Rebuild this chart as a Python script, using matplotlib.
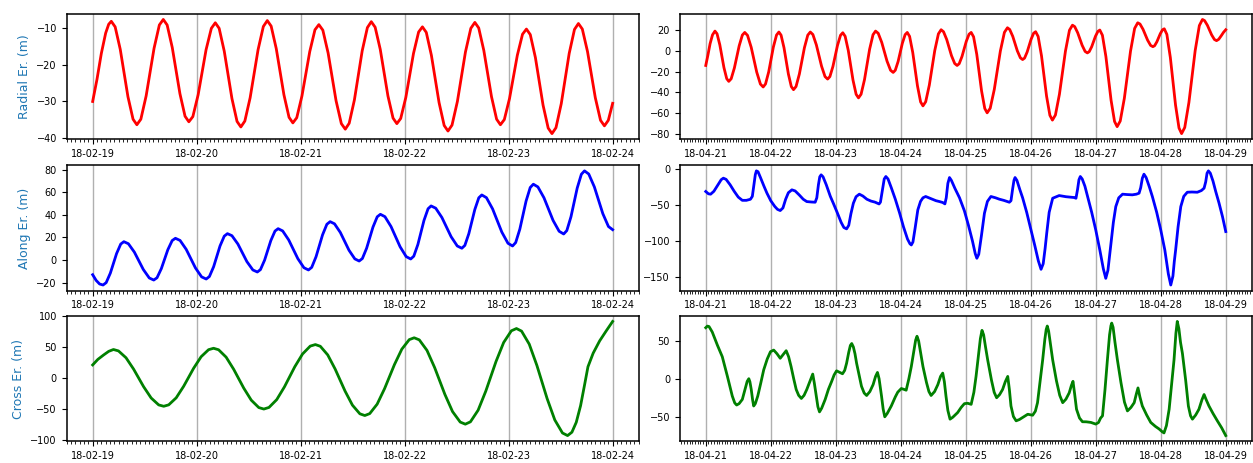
import numpy as np
import pandas as pd
import matplotlib
matplotlib.use("Agg")
import matplotlib.pyplot as plt
import matplotlib.dates as mdates
from matplotlib.ticker import MultipleLocator

# left column: 18-02-19 .. 18-02-24, hours from 2018-02-19 00:00
left_start = '2018-02-19'
right_start = '2018-04-21'

radial_l_h = [0, 1, 2, 3, 3.7, 4.3,
              5.19, 6.37, 8.14, 9.32, 10.2, 11.12, 12.34, 14.17, 15.39, 16.3,
              17.19, 18.37, 20.14, 21.32, 22.2, 23.12, 24.34, 26.17, 27.39, 28.3,
              29.19, 30.37, 32.14, 33.32, 34.2, 35.12, 36.34, 38.17, 39.39, 40.3,
              41.19, 42.37, 44.14, 45.32, 46.2, 47.1, 48.3, 50.1, 51.3, 52.2,
              53.12, 54.34, 56.17, 57.39, 58.3, 59.2, 60.4, 62.2, 63.4, 64.3,
              65.19, 66.37, 68.14, 69.32, 70.2, 71.09, 72.27, 74.04, 75.22, 76.1,
              76.99, 78.17, 79.94, 81.12, 82.0, 82.93, 84.17, 86.03, 87.27, 88.2,
              89.09, 90.27, 92.04, 93.22, 94.1, 95.0, 96.2, 98.0, 99.2, 100.1,
              100.99, 102.17, 103.94, 105.12, 106.0, 106.92, 108.14, 109.97, 111.19, 112.1,
              113.0, 114.2, 116.0, 117.2, 118.1, 119, 120]
radial_l_v = [-30, -24, -17, -11.5, -9.1, -8.3,
              -9.8, -15.9, -28.7, -34.8, -36.3, -34.8, -28.5, -15.6, -9.3, -7.8,
              -9.3, -15.4, -27.9, -34.0, -35.5, -34.1, -28.2, -16.0, -10.2, -8.7,
              -10.2, -16.4, -29.2, -35.4, -36.9, -35.3, -29.0, -16.0, -9.7, -8.1,
              -9.6, -15.7, -28.2, -34.3, -35.8, -34.4, -28.5, -16.5, -10.6, -9.2,
              -10.7, -16.9, -29.8, -36.0, -37.5, -35.9, -29.6, -16.3, -10.0, -8.4,
              -9.9, -15.9, -28.5, -34.5, -36.0, -34.6, -28.9, -17.0, -11.2, -9.8,
              -11.3, -17.5, -30.3, -36.5, -38.0, -36.4, -30.0, -16.6, -10.2, -8.6,
              -10.1, -16.2, -28.7, -34.8, -36.3, -34.9, -29.2, -17.5, -11.8, -10.4,
              -11.9, -18.1, -31.0, -37.2, -38.7, -37.1, -30.6, -17.0, -10.5, -8.9,
              -10.4, -16.5, -29.0, -35.1, -36.6, -35.1, -30.5]

along_l_h = [0, 0.8, 1.6, 2.4,
             3.12, 4.08, 5.52, 6.48, 7.2, 8.24, 9.62, 11.69, 13.07, 14.1,
             14.85, 15.85, 17.35, 18.35, 19.1, 20.17, 21.59, 23.72, 25.14, 26.2,
             26.94, 27.92, 29.39, 30.37, 31.1, 32.14, 33.52, 35.59, 36.97, 38.0,
             38.72, 39.68, 41.12, 42.08, 42.8, 43.85, 45.25, 47.35, 48.75, 49.8,
             50.55, 51.55, 53.05, 54.05, 54.8, 55.81, 57.15, 59.16, 60.5, 61.5,
             62.24, 63.22, 64.69, 65.67, 66.4, 67.45, 68.85, 70.95, 72.35, 73.4,
             74.11, 75.05, 76.46, 77.4, 78.1, 79.17, 80.59, 82.72, 84.14, 85.2,
             85.89, 86.81, 88.19, 89.11, 89.8, 90.87, 92.29, 94.42, 95.84, 96.9,
             97.62, 98.58, 100.02, 100.98, 101.7, 102.75, 104.15, 106.25, 107.65, 108.7,
             109.42, 110.38, 111.82, 112.78, 113.5, 114.48, 115.78, 117.73, 119.03, 120]
along_l_v = [-13, -18, -21.2, -22.1,
             -20.0, -11.6, 5.7, 14.1, 16.2, 14.4, 7.0, -8.4, -15.9, -17.7,
             -15.7, -7.6, 9.1, 17.2, 19.2, 17.3, 9.4, -7.0, -14.9, -16.8,
             -14.6, -5.9, 12.4, 21.1, 23.3, 21.5, 14.1, -1.4, -8.8, -10.6,
             -8.5, -0.1, 17.2, 25.6, 27.7, 25.7, 17.7, 1.2, -6.8, -8.8,
             -6.5, 2.9, 22.2, 31.6, 33.9, 32.0, 24.4, 8.6, 1.0, -0.9,
             1.3, 10.4, 29.1, 38.2, 40.4, 38.3, 29.6, 11.7, 3.0, 0.9,
             3.4, 13.7, 35.0, 45.3, 47.8, 45.8, 37.6, 20.6, 12.4, 10.4,
             12.9, 23.3, 44.6, 55.0, 57.5, 55.1, 45.2, 24.7, 14.8, 12.4,
             15.4, 27.3, 52.1, 64.1, 67.0, 64.6, 55.0, 35.0, 25.4, 23.0,
             26.0, 38.2, 63.6, 75.8, 78.8, 76.0, 64.6, 41.0, 29.6, 26.8]

cross_l_h = [0, 1.2, 2.5, 3.7, 4.8,
             5.96, 7.7, 9.44, 11.76, 13.5, 15.24, 16.4,
             17.55, 19.28, 21.0, 23.3, 25.03, 26.75, 27.9,
             29.06, 30.8, 32.54, 34.86, 36.6, 38.34, 39.5,
             40.69, 42.48, 44.26, 46.64, 48.43, 50.21, 51.4,
             52.54, 54.25, 55.96, 58.24, 59.95, 61.66, 62.8,
             63.94, 65.65, 67.36, 69.64, 71.35, 73.06, 74.2,
             75.38, 77.15, 78.92, 81.28, 83.05, 84.82, 86.0,
             87.18, 88.95, 90.72, 93.08, 94.85, 96.62, 97.8,
             98.98, 100.75, 102.52, 104.88, 106.65, 108.42, 109.6,
             110.6, 111.6, 112.6, 113.5, 114.3, 115.5, 117, 118.5, 120]
cross_l_v = [21, 30, 37, 43, 46,
             43.7, 32.6, 14.3, -14.3, -32.6, -43.8, -46,
             -43.7, -32.3, -13.6, 15.6, 34.3, 45.7, 48,
             45.6, 33.6, 14.0, -16.5, -36.1, -48.1, -50.5,
             -47.9, -35.2, -14.5, 18.0, 38.7, 51.5, 54,
             51.2, 37.2, 14.3, -21.3, -44.2, -58.2, -61,
             -57.9, -42.6, -17.5, 21.5, 46.6, 62.0, 65,
             61.6, 44.6, 16.7, -26.7, -54.6, -71.6, -75,
             -71.2, -52.4, -21.5, 26.5, 57.4, 76.3, 80,
             75.8, 54.7, 20.1, -33.6, -68.2, -89.3, -93.5,
             -88, -72, -45, -12, 18, 40, 60, 76, 91.5]

# right column: 18-04-21 .. 18-04-29, hours from 2018-04-21 00:00
radial_r_h = [0, 0.8, 1.6, 2.5, 3.4,
              4.17, 5.19, 6.72, 7.74, 8.5, 9.39, 10.57, 12.34, 13.52, 14.4,
              15.42, 16.78, 18.82, 20.18, 21.2, 22.07, 23.23, 24.97, 26.13, 27.0,
              27.81, 28.89, 30.51, 31.59, 32.4, 33.33, 34.57, 36.43, 37.67, 38.6,
              39.56, 40.84, 42.76, 44.04, 45.0, 45.84, 46.96, 48.64, 49.76, 50.6,
              51.47, 52.63, 54.37, 55.53, 56.4, 57.35, 58.61, 60.5, 61.76, 62.7,
              63.68, 64.98, 66.93, 68.23, 69.2, 69.98, 71.02, 72.58, 73.62, 74.4,
              75.27, 76.43, 78.17, 79.33, 80.2, 81.21, 82.55, 84.56, 85.9, 86.9,
              87.79, 88.97, 90.74, 91.92, 92.8, 93.58, 94.62, 96.18, 97.22, 98.0,
              98.89, 100.07, 101.84, 103.02, 103.9, 105.03, 106.53, 108.78, 110.28, 111.4,
              112.24, 113.36, 115.04, 116.16, 117.0, 117.72, 118.68, 120.12, 121.08, 121.8,
              122.73, 123.97, 125.83, 127.07, 128.0, 129.11, 130.59, 132.81, 134.29, 135.4,
              136.23, 137.33, 138.98, 140.08, 140.9, 141.59, 142.51, 143.89, 144.81, 145.5,
              146.46, 147.74, 149.66, 150.94, 151.9, 153.04, 154.56, 156.84, 158.36, 159.5,
              160.34, 161.46, 163.14, 164.26, 165.1, 165.73, 166.57, 167.83, 168.67, 169.3,
              170.26, 171.54, 173.46, 174.74, 175.7, 176.86, 178.4, 180.71, 182.25, 183.4,
              184.18, 185.22, 186.78, 187.82, 188.6, 189.4, 190.3, 191.2, 192]
radial_r_v = [-14, -4, 7, 15.5, 19.1,
              16.5, 5.9, -16.1, -26.7, -29.3, -26.8, -16.4, 4.9, 15.3, 17.8,
              15.0, 3.5, -20.4, -31.9, -34.7, -31.8, -20.3, 3.8, 15.3, 18.2,
              15.2, 3.1, -22.2, -34.3, -37.3, -34.3, -22.2, 3.1, 15.2, 18.2,
              15.8, 5.8, -14.7, -24.7, -27.1, -24.7, -14.9, 5.3, 15.1, 17.5,
              14.1, 0.4, -28.1, -41.8, -45.2, -41.7, -27.7, 1.6, 15.6, 19.1,
              17.0, 8.2, -9.8, -18.6, -20.7, -18.6, -10.2, 7.3, 15.7, 17.8,
              14.0, -1.5, -33.6, -49.1, -52.9, -48.9, -32.9, 0.4, 16.4, 20.4,
              18.5, 11.0, -4.6, -12.1, -14.0, -12.3, -5.3, 9.1, 16.1, 17.8,
              13.6, -3.3, -38.5, -55.4, -59.6, -55.2, -37.2, -0.1, 17.9, 22.3,
              20.6, 14.0, 0.1, -6.6, -8.3, -6.9, -1.0, 11.2, 17.1, 18.5,
              13.9, -4.7, -43.4, -62.0, -66.6, -61.7, -41.7, -0.2, 19.9, 24.8,
              23.4, 17.5, 5.4, -0.5, -1.9, -0.7, 4.1, 14.1, 18.9, 20.1,
              15.1, -5.3, -47.5, -67.9, -72.9, -67.5, -45.6, -0.2, 21.7, 27.1,
              25.9, 20.8, 10.4, 5.3, 4.1, 5.0, 8.8, 16.6, 20.4, 21.3,
              15.9, -6.3, -52.1, -74.2, -79.6, -73.7, -49.6, 0.3, 24.4, 30.3,
              29.2, 24.7, 15.5, 11.0, 9.9, 11.2, 14.5, 18, 20.4]

along_r_h = [0, 1, 1.8, 3, 4.5, 5.7, 6.5, 7.5, 9, 10.5,
             12, 13.5, 15, 16.5, 17.2, 17.8, 18.3, 18.7, 19.3, 20.2,
             21.5, 22.6, 24, 25.5, 26.5, 27.5, 28.5, 29.5, 30.5, 31.8,
             33, 34.5, 36, 37.3, 39, 40.4, 41, 41.6, 42.1, 42.6,
             43.3, 44.5, 46, 47.1, 48.5, 50, 51, 52, 52.8, 53.6,
             54.5, 55.5, 56.7, 58, 59.5, 61, 62.5, 64, 64.5, 65.2,
             65.9, 66.5, 67.3, 68.5, 70, 71.6, 73, 74.5, 75.4, 75.9,
             76.5, 77.3, 78.3, 79.3, 80.2, 81.2, 83, 85, 86.3, 87.5,
             88.3, 88.8, 89.4, 90, 90.7, 92, 93.7, 95.5, 97, 98.5,
             99.5, 100.1, 100.8, 101.8, 102.9, 104, 105.3, 107, 108.4, 110,
             112.1, 112.7, 113.3, 113.8, 114.2, 114.9, 116, 117, 118.5, 120.1,
             121.5, 122.8, 123.8, 124.6, 125.3, 125.9, 126.8, 128.1, 130.5, 133,
             136, 136.7, 137.3, 137.8, 138.3, 139, 140, 141, 142.5, 144,
             145.5, 146.8, 147.7, 148.5, 149.1, 149.6, 150.5, 151.4, 152.5, 153.9,
             155.5, 157.5, 159, 160, 160.6, 161.2, 161.8, 162.6, 163.8, 164.9,
             166.5, 168, 169.5, 170.8, 171.7, 172.5, 173, 173.5, 174.4, 175.4,
             176.5, 177.8, 179.5, 181.5, 183, 184, 184.6, 185.1, 185.6, 186.3,
             187.3, 188.3, 189.5, 190.8, 192]
along_r_v = [-31.3, -34.5, -35, -31, -22, -15, -12.9, -14.5, -22, -31,
             -39, -43.5, -43.5, -42, -38, -22, -8, -2.8, -4, -12,
             -24, -33.6, -44, -52, -56, -57.6, -54, -42, -33, -29.0,
             -30.5, -36, -42, -45.2, -45.8, -46.1, -40, -22, -11, -8.3,
             -11, -22, -38, -47.5, -60, -74, -81, -82.9, -78, -62,
             -47.5, -38.5, -35.0, -37.5, -42, -44.5, -46, -48.5, -46, -30,
             -14, -10.6, -14, -26, -42, -61.3, -80, -97, -103.5, -105.1,
             -101, -82, -56.7, -45, -40, -38.2, -41, -44, -45.2, -46.5,
             -48.4, -40, -20, -12, -16, -27, -40, -58, -78, -100,
             -117, -123.5, -118, -92, -61.3, -45, -38.2, -40, -41.9, -43.5,
             -46.1, -44, -28, -16, -12, -16, -29, -40, -60, -84.3,
             -106, -127, -138.7, -131, -110, -88.9, -60, -40.6, -36.9, -38.5,
             -39.6, -40.6, -28, -15, -10.6, -14, -24, -38.2, -60, -84.3,
             -112, -138, -151.2, -140, -120, -102.8, -74, -52.1, -40, -35.0,
             -35.5, -35.9, -35, -33.6, -26, -13, -7.4, -12, -25, -38.2,
             -60, -84.3, -112, -145, -160.4, -148, -128, -112, -80, -52.1,
             -38, -32.3, -32, -32.3, -30, -26.7, -18, -6, -2.8, -6,
             -17, -31.3, -47, -66, -86.6]

cross_r_h = [0, 0.6, 1.2, 2.4, 4.3, 6.1, 8, 9.8, 10.7, 11.4,
             12.3, 13.5, 14.5, 15.3, 15.9, 16.3, 16.8, 17.3, 17.7, 18.3,
             19.2, 20.3, 21.4, 22.7, 23.9, 25.1, 26.3, 27.5, 28.6, 29.7,
             30.6, 31.5, 32.5, 33.4, 34.3, 35.3, 36.3, 37.3, 38.5, 39.5,
             40.1, 40.8, 41.4, 42, 42.8, 44.1, 45.3, 46.5, 47.4, 48.3,
             49.4, 50.5, 51.3, 52, 52.8, 53.4, 53.9, 54.5, 55.1, 55.7,
             56.6, 57.5, 58.5, 59.4, 60.6, 61.8, 62.7, 63.4, 64, 64.9,
             65.5, 66.1, 67, 68.5, 70, 70.9, 72.2, 73.1, 74, 75,
             75.9, 76.9, 77.5, 78, 78.6, 79.3, 80.2, 81.5, 82.4, 83.2,
             84.5, 85.7, 86.7, 87.5, 88.1, 88.7, 89.4, 90.2, 91.2, 93,
             94.3, 95.5, 96.7, 98, 99, 99.8, 100.8, 101.4, 102, 102.6,
             103.3, 104.1, 105.5, 106.5, 107.4, 108.5, 109.6, 110.6, 111.5, 112.1,
             112.7, 113.6, 114.6, 115.8, 117, 118.9, 120.7, 121.7, 122.5, 123.5,
             124.4, 125.2, 125.7, 126.1, 126.6, 127.3, 128.1, 129.5, 130.7, 131.8,
             133, 134.2, 135, 135.6, 136.2, 136.9, 138, 139.1, 140.5, 142.2,
             143.2, 144, 145, 145.8, 146.5, 147.4, 148.3, 149.1, 149.6, 149.9,
             150.4, 151.1, 152, 153.3, 154.6, 155.7, 157, 158.2, 159, 159.6,
             160.3, 161.2, 162.8, 164.3, 166, 167.4, 168.5, 169.2, 170.1, 171.1,
             172, 172.9, 173.6, 174.1, 174.7, 175.3, 176, 177.2, 178.2, 179,
             179.7, 180.9, 182.1, 183.2, 184, 184.8, 185.8, 187.3, 188.9, 190.5,
             192]
cross_r_v = [67.4, 69.5, 69, 61.7, 44.3, 29.1, 3, -23, -32, -34.8,
             -33, -27.4, -14, -3.5, 0, -4, -14.3, -28, -36.1, -33,
             -23, -6, 11.7, 26, 35.7, 37.8, 33, 27, 32, 37,
             29, 16.1, -0.5, -14.3, -22, -26.1, -22, -14.3, -3, 6.1,
             -6, -23, -37, -43.9, -39, -27.4, -14, -3.5, 5, 10.4,
             8.5, 6.5, 11, 20.4, 35, 44, 46.5, 42, 33, 20.4,
             5, -10, -19, -22.2, -17, -7.8, 3, 8.3, 0, -23,
             -40, -50.4, -46, -36.1, -24, -17.8, -13, -14, -15.2, 0,
             16.1, 38, 51, 56.1, 50, 35, 16.1, -5, -17, -22.2,
             -17, -7.8, 3, 7.4, -4, -23, -42, -53.5, -51, -44.8,
             -38, -33, -32.5, -33.9, -18, 3, 35, 53, 63.9, 58,
             42, 24.8, -2, -18, -25.2, -21, -14.3, -4, 3, -14,
             -36.1, -50, -55.7, -54, -51.3, -47, -48.3, -43, -31.7, -2,
             24.8, 52, 65, 69.6, 63, 45, 24.8, -3, -22, -31.7,
             -27, -18.7, -9, -3.5, -20, -40.4, -52, -56.9, -57, -57.8,
             -59, -60, -58, -52, -49.1, -15, 24.8, 58, 70, 73.5,
             68, 48, 24.8, -5, -31, -42.6, -38, -31.7, -20, -12.2,
             -24, -36.1, -48, -57.8, -63, -66.5, -70, -71.7, -62, -40.4,
             -8, 24.8, 60, 75.7, 66, 48, 33.5, -2, -36.1, -49,
             -53.5, -48, -40.4, -28, -20.9, -28, -36.1, -46, -55.7, -65,
             -75.2]

ylabels = ['Radial Er. (m)', 'Along Er. (m)', 'Cross Er. (m)']
colors = ['red', 'blue', 'green']
left_ystep = [10, 20, 50]
right_ystep = [20, 50, 50]


def to_time(start, hours):
    return pd.Timestamp(start) + pd.to_timedelta(np.array(hours), unit='h')


left_data = [(radial_l_h, radial_l_v), (along_l_h, along_l_v), (cross_l_h, cross_l_v)]
right_data = [(radial_r_h, radial_r_v), (along_r_h, along_r_v), (cross_r_h, cross_r_v)]

fig = plt.figure(figsize=(12.53, 4.63), dpi=100)

row_bottom = [0.6991, 0.3721, 0.0469]
row_height = 0.2712
col_left = [0.0532, 0.5425]
col_width = 0.4565

cols = [(left_data, left_start, left_ystep), (right_data, right_start, right_ystep)]
for r in range(3):
    for c, (data, start, ystep) in enumerate(cols):
        h, v = data[r]
        ax = fig.add_axes([col_left[c], row_bottom[r], col_width, row_height])
        ax.plot(to_time(start, h), v, color=colors[r], lw=2)
        ax.xaxis.set_major_locator(mdates.DayLocator())
        ax.xaxis.set_minor_locator(mdates.HourLocator())
        ax.xaxis.set_major_formatter(mdates.DateFormatter('%y-%m-%d'))
        ax.yaxis.set_major_locator(MultipleLocator(ystep[r]))
        ax.grid(axis='x', color='#b0b0b0', lw=1)
        ax.tick_params(labelsize=7)
        for s in ax.spines.values():
            s.set_linewidth(1.1)
        if c == 0:
            ax.set_ylabel(ylabels[r], color='#1f77b4', fontsize=9)

fig.savefig('out.png', dpi=100)
